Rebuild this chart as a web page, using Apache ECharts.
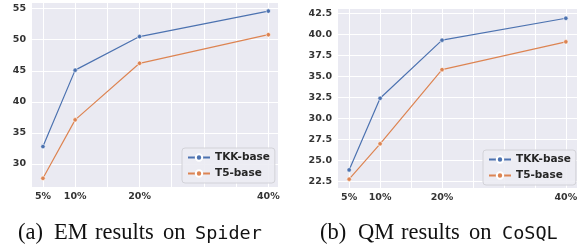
<!DOCTYPE html>
<html style="height: 100%">
<head>
	<meta charset="utf-8">
</head>
<body style="height: 100%; margin: 0; background: #fff">
	<div id="container" style="width: 581px; height: 245px"></div>
	<script type="text/javascript" src="https://cdn.jsdelivr.net/npm/echarts@6/dist/echarts.min.js"></script>
	<script type="text/javascript">
		// training data fraction (%)
		const xPcts = [5, 10, 20, 40];
		const xTickLabels = [5, 10, 20, 40];
		const xGridLines = [5, 10, 15, 20, 25, 30, 35, 40];

		// EM on Spider
		const spiderTKK = [32.8, 45.1, 50.5, 54.6];
		const spiderT5 = [27.7, 37.1, 46.2, 50.8];
		const yTicksSpider = [30, 35, 40, 45, 50, 55];

		// QM on CoSQL
		const cosqlTKK = [23.9, 32.4, 39.3, 41.9];
		const cosqlT5 = [22.8, 27.0, 35.8, 39.1];
		const yTicksCosql = [22.5, 25, 27.5, 30, 32.5, 35, 37.5, 40, 42.5];

		const seriesNames = ['TKK-base', 'T5-base'];
		const colors = ['#4C72B0', '#DD8452'];

		let dom = document.getElementById("container");
		let myChart = echarts.init(dom);

		const labelFont = {
			fontFamily: 'DejaVu Sans',
			fontWeight: 'bold',
			fontSize: 9.5,
			color: '#333'
		};

		function pairs(ys) {
			return xPcts.map(function (x, i) { return [x, ys[i]]; });
		}

		function xAxisFor(idx, min, max) {
			return {
				type: 'value',
				gridIndex: idx,
				min: min,
				max: max,
				axisLine: { show: false },
				axisTick: { show: false, customValues: xGridLines },
				axisLabel: Object.assign({
					customValues: xTickLabels,
					margin: 5,
					formatter: '{value}%'
				}, labelFont),
				splitLine: { show: true, lineStyle: { color: '#fff', width: 1 } }
			};
		}

		function yAxisFor(idx, min, max, ticks, digits) {
			return {
				type: 'value',
				gridIndex: idx,
				min: min,
				max: max,
				axisLine: { show: false },
				axisTick: { show: false, customValues: ticks },
				axisLabel: Object.assign({
					customValues: ticks,
					margin: 6,
					formatter: function (v) { return v.toFixed(digits); }
				}, labelFont),
				splitLine: { show: true, lineStyle: { color: '#fff', width: 1 } }
			};
		}

		function lineSeries(name, idx, ys, color) {
			return {
				name: name,
				type: 'line',
				xAxisIndex: idx,
				yAxisIndex: idx,
				data: pairs(ys),
				symbol: 'circle',
				symbolSize: 4.5,
				color: color,
				itemStyle: { color: color, borderColor: '#fff', borderWidth: 0.6 },
				lineStyle: { color: color, width: 1.2 },
				animation: false
			};
		}

		function legendAt(left, top) {
			return {
				data: seriesNames,
				left: left,
				top: top,
				orient: 'vertical',
				itemWidth: 22,
				itemHeight: 8,
				itemGap: 5,
				padding: [4, 5, 4, 5],
				backgroundColor: 'rgba(236,236,243,0.9)',
				borderColor: '#d2d2d8',
				borderWidth: 1,
				borderRadius: 3,
				textStyle: {
					fontFamily: 'DejaVu Sans',
					fontWeight: 'bold',
					fontSize: 10.5,
					color: '#262626'
				}
			};
		}

		// caption pieces: [text, x, monospace?]
		const captionPieces = [
			['(a)', 18, false], ['EM', 54, false], ['results', 95, false], ['on', 163, false], ['Spider', 195, true],
			['(b)', 320, false], ['QM', 358, false], ['results', 401, false], ['on', 469, false], ['CoSQL', 502, true]
		];

		function captionText(p) {
			return {
				type: 'text',
				left: p[1],
				top: p[2] ? 225 : 222,
				style: {
					text: p[0],
					fontFamily: p[2] ? 'DejaVu Sans Mono' : 'Liberation Serif',
					fontSize: p[2] ? 18.5 : 22.5,
					fill: '#111'
				}
			};
		}

		let option = {
			animation: false,
			grid: [
				{ left: 32, top: 3, width: 246, height: 184, show: true, backgroundColor: '#EAEAF2', borderWidth: 0 },
				{ left: 338, top: 9, width: 239, height: 179, show: true, backgroundColor: '#EAEAF2', borderWidth: 0 }
			],
			xAxis: [
				xAxisFor(0, 3.3, 41.5),
				xAxisFor(1, 3.2, 41.8)
			],
			yAxis: [
				yAxisFor(0, 26.3, 55.9, yTicksSpider, 0),
				yAxisFor(1, 21.75, 43.0, yTicksCosql, 1)
			],
			legend: [
				legendAt(182, 148),
				legendAt(483, 150)
			],
			series: [
				lineSeries(seriesNames[0], 0, spiderTKK, colors[0]),
				lineSeries(seriesNames[1], 0, spiderT5, colors[1]),
				lineSeries(seriesNames[0], 1, cosqlTKK, colors[0]),
				lineSeries(seriesNames[1], 1, cosqlT5, colors[1])
			],
			graphic: captionPieces.map(captionText)
		};

		myChart.setOption(option);
	</script>
</body>
</html>
